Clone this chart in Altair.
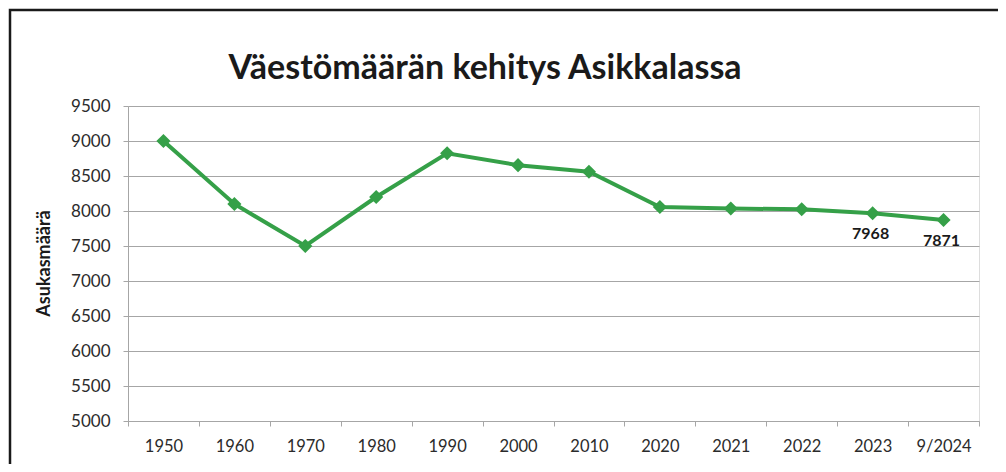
import altair as alt
import pandas as pd

years = ["1950", "1960", "1970", "1980", "1990", "2000", "2010",
         "2020", "2021", "2022", "2023", "9/2024"]
population = [9000, 8100, 7500, 8200, 8825, 8655, 8560,
              8057, 8035, 8025, 7968, 7871]
labelled = ["2023", "9/2024"]
title_text = "Väestömäärän kehitys Asikkalassa"

df = pd.DataFrame({"vuosi": years, "asukkaat": population})

FONT = "Lato"
GREEN = "#35a048"
GRAY = "#a6a6a6"

x_enc = alt.X(
    "vuosi:N", sort=years, bandPosition=0.5,
    scale=alt.Scale(type="band", paddingInner=0, paddingOuter=0),
    axis=alt.Axis(title=None, tickBand="extent", labelAngle=0, grid=False,
                  domainColor=GRAY, tickColor=GRAY, tickSize=5,
                  labelFont=FONT, labelFontSize=16.5, labelColor="#2b2b2b",
                  labelPadding=12),
)
y_enc = alt.Y(
    "asukkaat:Q",
    scale=alt.Scale(domain=[5000, 9500], nice=False, zero=False),
    axis=alt.Axis(title="Asukasmäärä", values=list(range(5000, 9501, 500)),
                  format="d",
                  grid=True, gridColor=GRAY, gridWidth=1.2,
                  domainColor=GRAY, tickColor=GRAY, tickSize=5,
                  labelFont=FONT, labelFontSize=17, labelColor="#2b2b2b",
                  labelPadding=13,
                  titleFont=FONT, titleFontSize=18, titleFontWeight="bold",
                  titleColor="#1a1a1a", titleAngle=-90, titleX=-84, titleY=157,
                  titleAlign="center", titleBaseline="middle"),
)

line = alt.Chart(df).mark_line(color=GREEN, strokeWidth=4).encode(x=x_enc, y=y_enc)
points = alt.Chart(df).mark_point(shape="diamond", filled=True, size=200,
                                  color=GREEN, opacity=1).encode(x=x_enc, y=y_enc)
texts = alt.Chart(df).transform_filter(
    alt.FieldOneOfPredicate(field="vuosi", oneOf=labelled)
).mark_text(font=FONT, fontSize=16, fontWeight="bold", color="#1a1a1a",
            dy=21, dx=-2).encode(x=x_enc, y=y_enc, text="asukkaat:Q")

single = alt.Data(values=[{"t": title_text}])
border = alt.Chart(single).mark_rect(
    filled=False, stroke="#1a1a1a", strokeWidth=2.5, clip=False
).encode(x=alt.value(-118), y=alt.value(-96), x2=alt.value(1100), y2=alt.value(600))
title = alt.Chart(single).mark_text(
    font=FONT, fontSize=34, fontWeight="bold", color="#1a1a1a",
    align="center", baseline="alphabetic"
).encode(x=alt.value(357), y=alt.value(-27), text="t:N")

chart = alt.layer(border, title, line, points, texts).properties(
    width=851, height=315,
    padding={"left": 120, "top": 98, "right": 19, "bottom": 43},
    autosize=alt.AutoSizeParams(type="none"),
).configure_view(stroke=None).configure(background="white")

chart.save("out.html", embed_options={"renderer": "svg", "actions": False})
